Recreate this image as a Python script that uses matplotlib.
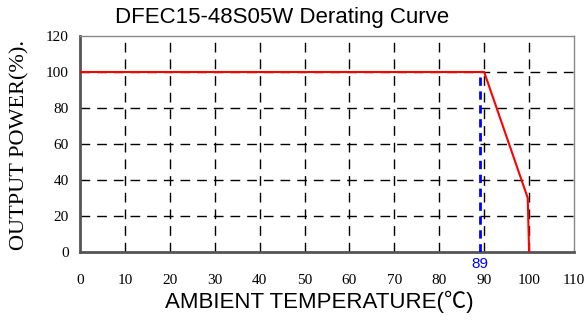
import matplotlib
matplotlib.use("Agg")
import matplotlib.pyplot as plt

# derating curve data
temp = [0, 90, 99.7, 100]
power = [100, 100, 30, 0]
mark_temp = 89
mark_power = 100
xticks = [0, 10, 20, 30, 40, 50, 60, 70, 80, 90, 100, 110]
yticks = [0, 20, 40, 60, 80, 100, 120]

serif = "Liberation Serif"
sans = ["Liberation Sans", "Noto Sans CJK SC", "DejaVu Sans"]

fig = plt.figure(figsize=(5.84, 3.22), dpi=100)
ax = fig.add_axes([80/584, 1-252/322, 494/584, 216/322])

ax.set_xlim(0, 110)
ax.set_ylim(0, 120)
ax.set_xticks(xticks)
ax.set_yticks(yticks)
ax.set_xticklabels([str(t) for t in xticks], family=serif, fontsize=11)
ax.set_yticklabels([str(t) for t in yticks], family=serif, fontsize=11)
ax.tick_params(length=0)
ax.tick_params(axis="x", pad=16)
ax.tick_params(axis="y", pad=8)

for t in xticks[1:-1]:
    ax.axvline(t, color="black", lw=1, ls=(0, (7, 5)), zorder=1)
for t in yticks[1:-1]:
    ax.axhline(t, color="black", lw=1, ls=(0, (7, 5)), zorder=1)

ax.plot(temp, power, color="#ff0000", lw=1.5, zorder=3)
ax.plot([mark_temp, mark_temp], [0, mark_power], color="#0000ff", lw=2,
        ls=(0, (3, 2)), zorder=4)
ax.text(mark_temp, -2.5, str(mark_temp), color="#0000ff", family=sans,
        fontsize=11, ha="center", va="top")

for s in ["left", "bottom"]:
    ax.spines[s].set_color("#555555")
    ax.spines[s].set_linewidth(2)
for s in ["top", "right"]:
    ax.spines[s].set_color("#888888")
    ax.spines[s].set_linewidth(1)

fig.text(282/584, 1-18/322, "DFEC15-48S05W Derating Curve", family=sans,
         fontsize=16, ha="center", va="center")
fig.text(319/584, 1-302/322, "AMBIENT TEMPERATURE(℃)", family=sans,
         fontsize=16, ha="center", va="center")
fig.text(20/584, 1-145/322, "OUTPUT POWER(%).", family=serif,
         fontsize=16, ha="center", va="center", rotation=90)

fig.savefig("out.png", dpi=100)
